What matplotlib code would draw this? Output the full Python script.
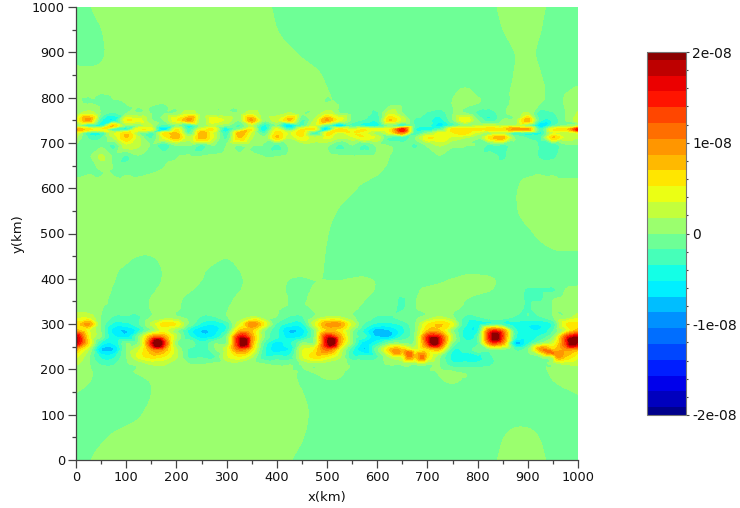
import numpy as np
import matplotlib
matplotlib.use("Agg")
import matplotlib.pyplot as plt
from matplotlib.colors import ListedColormap
from matplotlib.tri import Triangulation, UniformTriRefiner, CubicTriInterpolator
from matplotlib.ticker import MultipleLocator

# Column positions (km)
x_km = [0,25,50,75,100,125,150,175,200,225,250,275,300,325,350,375,400,425,450,475,500,
        525,550,575,600,625,650,675,700,725,750,775,800,825,850,875,900,925,950,975,1000]
# Row positions (km)
y_km = [0,50,100,150,175,195,212,228,244,258,272,286,300,315,335,355,375,395,430,500,550,
        600,640,670,695,712,722,730,738,750,765,785,810,850,900,950,1000]

# Field values in units of 1e-9, one row per y_km
field_e9 = [
[-1,1,1,1,1,1,1,1,1,1,1,1,1,1,1,1,1,-1,-1,-1,-1,-1,-1,-1,-1,-1,-1,-1,-1,-1,-1,-1,-1,-1,1,1,1,1,-1,-1,-1],
[-1,-1,-1,1,1,1,1,1,1,1,1,1,1,1,1,1,1,1,1,-1,-1,-1,-1,-1,-1,-1,-1,-1,-1,-1,-1,-1,-1,-1,1,1,1,1,-1,-1,-1],
[-1,-1,-1,-1,-1,-1,1,1,1,1,1,1,1,1,1,1,1,1,1,1,-1,-1,-1,-1,-1,-1,-1,-1,-1,-1,-1,-1,-1,-1,-1,-1,-1,-1,-1,-1,-1],
[1,-1,-1,-1,-1,-1,-1,1,1,1,1,1,1,1,1,1,1,1,-1,-1,-1,-1,-1,-1,-1,-1,-1,-1,-1,-1,-1,-1,-1,-1,-1,-1,-1,-1,-1,-1,1],
[1,1,-1,-1,-1,-1,-1,1,1,1,1,1,1,1,1,1,1,1,-1,-1,1,1,-1,-1,-1,-1,-1,-1,-1,1,1,1,-1,-1,-1,-1,-1,-1,1,1,1],
[1,1,-1,-1,1,1,1,1,1,1,1,1,1,1,1,1,1,1,-1,-1,1,1,-1,-1,-1,-1,-1,-1,-1,1,1,1,-1,-1,-1,-1,-1,-1,1,1,1],
[2,1,-2,-2,-1,1,2,2,1,-1,-1,1,1,1,1,-1,-1,-1,1,1,1,1,-1,-1,1,1,1,1,1,-1,-3,-3,-3,-2,-1,-1,-1,-1,1,2,2],
[4,1,-4,-4,-1,4,6,5,2,-2,-2,-2,3,5,2,-3,-3,-3,3,6,5,2,-3,-3,-2,2,4,7,6,1,-4,-4,-4,-2,-1,-1,-1,-1,3,7,4],
[8,2,-7,-7,1,3,9,9,2,-2,-3,-1,3,11,6,-3,-6,-5,3,5,11,4,-3,-7,-1,7,7,3,6,7,-3,-3,-1,1,1,-2,1,9,7,9,8],
[18,6,-4,-5,-1,1,15,15,1,-1,-3,-1,1,17,9,-2,-6,-4,1,1,17,9,1,-6,-4,-1,-1,1,13,15,1,-3,-2,11,9,-7,-4,1,3,13,18],
[18,5,1,-5,-6,1,9,9,2,-3,-6,-5,-1,15,9,1,-3,-6,-5,1,15,9,1,-3,-7,-7,-3,1,14,14,2,-4,-2,16,13,-3,-5,-3,1,12,18],
[8,4,-1,-6,-7,-4,1,4,1,-4,-7,-6,-3,7,7,1,-3,-7,-6,-1,7,6,1,-4,-8,-7,-4,-1,7,7,1,-4,-4,12,10,-3,-5,-5,-2,3,8],
[6,9,-1,-4,-4,-2,2,6,5,-1,-4,-5,-3,3,10,5,-2,-4,-4,3,9,9,3,-2,-4,-4,-3,-1,5,7,4,-3,-5,-3,-3,-4,-5,-5,-3,5,6],
[3,3,-1,-2,-2,-2,-1,1,1,-1,-2,-2,-1,1,2,1,-1,-2,-2,-1,2,2,1,-1,-2,-2,-1,-1,1,2,1,-2,-2,-1,-1,-2,-2,-2,-1,1,3],
[1,1,1,-1,-1,-1,1,1,1,-1,-1,-1,1,1,1,1,1,-1,-1,1,1,1,-1,-1,-1,-1,-2,1,1,1,1,-1,-1,-1,-1,-1,-2,-1,1,1,1],
[1,1,1,-1,-1,-1,1,1,-1,-1,-1,-1,-1,1,1,1,1,1,-1,1,1,1,1,1,-1,-1,-2,-1,1,1,1,-1,-1,-1,-1,-1,-2,-2,1,1,1],
[1,1,1,-1,-1,-1,-1,1,1,1,-1,-1,-1,-1,1,1,1,-1,-1,1,1,1,1,1,-1,-1,-1,-1,1,1,1,1,1,1,-1,-1,-2,-2,-2,1,1],
[1,1,1,1,1,-1,-1,1,1,1,1,1,-1,-1,1,1,-1,-1,-1,-1,-1,-1,1,1,1,1,1,1,-1,-1,1,1,1,1,1,1,-1,-1,-1,-1,-1],
[-1,-1,-1,-1,-1,-1,-1,-1,-1,-1,-1,-1,-1,-1,1,1,1,1,1,1,1,-1,-1,-1,-1,-1,-1,-1,-1,-1,-1,-1,-1,-1,-1,-1,-1,-1,-1,-1,-1],
[1,1,1,1,1,1,1,1,1,1,1,1,1,1,1,1,1,1,1,1,-1,-1,-1,-1,-1,-1,-1,-1,-1,-1,-1,-1,-1,-1,-1,-1,-1,1,1,1,1],
[1,1,1,1,1,1,1,1,1,1,1,1,1,1,1,1,1,1,1,1,1,-1,-1,-1,-1,-1,-1,-1,-1,-1,-1,-1,-1,-1,-1,1,1,1,1,1,1],
[1,1,1,1,1,1,1,1,1,1,1,1,1,1,1,1,1,1,1,1,1,1,1,-1,-1,-1,-1,-1,-1,-1,-1,-1,-1,-1,-1,1,1,1,1,1,1],
[-1,-1,-1,-1,-1,-1,-1,-1,1,1,1,1,1,1,1,1,1,1,1,1,1,1,1,1,1,1,-1,-1,-1,-1,-1,-1,-1,-1,-1,-1,-1,-1,-1,-1,-1],
[-1,-1,2,-1,-2,-1,1,-1,-1,1,-1,-1,1,1,1,-1,-1,1,1,1,1,1,-1,1,1,-1,-1,1,1,-1,-1,1,1,-1,-2,-1,1,-2,-2,-1,-1],
[1,-1,-1,-2,3,2,-1,-3,1,-1,-2,1,-1,-1,-1,-1,-2,-1,1,1,-1,-2,-1,-2,1,1,-1,-2,1,2,1,-1,-1,-2,-2,-1,1,-2,-3,-1,-1],
[2,-2,-2,2,7,2,-2,4,8,2,8,3,-2,7,2,1,7,2,5,2,4,2,3,5,3,-2,-3,1,5,5,3,2,-1,6,8,1,-2,-2,7,3,2],
[4,-3,-3,3,6,1,-2,5,7,-2,8,3,-3,8,3,-2,6,3,6,-3,5,3,5,4,-1,4,10,-3,1,4,5,6,3,1,2,-3,-3,-4,3,2,4],
[9,6,5,-3,-4,5,4,-7,5,-3,4,5,-5,-1,5,-5,4,-3,5,5,-6,6,3,5,4,5,15,-3,-5,-2,6,6,6,6,6,9,9,-3,5,6,16],
[1,-3,-4,7,1,-1,2,-3,1,-4,-1,2,-1,-2,2,-4,-1,-7,-2,3,-2,-7,-2,-4,-4,-1,-3,-2,-3,-6,-2,1,2,3,2,2,1,-7,-2,1,2],
[3,9,-3,-5,5,4,1,-1,5,9,-1,5,3,-1,9,1,3,7,-2,2,9,4,-1,-2,-3,7,3,-2,-3,-4,-1,5,1,-3,-1,1,8,-3,-3,-1,3],
[1,3,-1,-2,-1,1,-1,-1,1,3,-1,1,1,-1,3,-1,1,2,-1,1,3,1,-1,-1,-2,3,-1,-1,-2,-3,-1,1,-2,-3,-1,1,2,-3,-2,-1,2],
[-1,-1,-1,-1,-1,1,-1,-1,-1,1,1,1,-1,-1,1,1,1,-1,-1,1,-1,-1,-1,-1,-1,-1,1,1,-1,-1,1,1,1,-1,-1,1,1,-1,-1,1,1],
[1,1,-1,1,1,1,1,1,1,1,1,1,1,1,1,1,1,1,1,1,-1,1,1,-1,-1,-1,-1,-1,-1,-1,1,1,1,-1,-1,1,1,1,-1,1,1],
[1,1,1,1,1,1,1,1,1,1,1,1,1,1,1,1,1,1,1,1,1,-1,-1,-1,-1,-1,-1,-1,-1,-1,-1,-1,-1,-1,-1,1,1,1,-1,-1,-1],
[-1,-1,-1,-1,1,1,1,1,1,1,1,1,1,1,1,1,1,1,-1,-1,-1,-1,-1,-1,-1,-1,-1,-1,-1,-1,-1,-1,-1,-1,-1,-1,-1,-1,-1,-1,-1],
[-1,-1,-1,1,1,1,1,1,1,1,1,1,1,1,1,1,-1,-1,-1,-1,-1,-1,-1,-1,-1,-1,-1,-1,-1,-1,-1,-1,-1,-1,1,1,1,1,-1,-1,-1],
[-1,1,1,1,1,1,1,1,1,1,1,1,1,1,1,1,-1,-1,-1,-1,-1,-1,-1,-1,-1,-1,-1,-1,-1,-1,-1,-1,-1,-1,1,1,1,1,-1,-1,-1],
]

# Vortex centres
vortex_x = [163,332,507,713,835,990]
vortex_y = [258,262,262,264,272,262]
vortex_e9 = [24,24,24,24,22,24]
# Samples along the streaks of the lower band
streak_x = [640,665,690, 925,945,960]
streak_y = [238,234,226, 246,238,231]
streak_e9 = [10,12,11, 9,11,10]

band_colors = [
"#00008b","#0000be","#0000eb","#001eff","#0046ff","#006eff","#0091ff","#00beff",
"#00f0ff","#14ffe6","#46ffb9","#6eff96","#9bff6e","#c3ff3c","#ebff14","#ffe600",
"#ffb900","#ff9600","#ff6e00","#ff4600","#ff1400","#eb0000","#be0000","#8b0000",
]
tick_values = [-2e-8,-1e-8,0,1e-8,2e-8]
tick_labels = ["-2e-08","-1e-08","0","1e-08","2e-08"]

fig = plt.figure(figsize=(7.40,5.08),dpi=100)
W,H = 740,508
ax = fig.add_axes([76/W,1-460/H,502/W,453/H])
cax = fig.add_axes([647/W,1-415/H,39/W,363/H])

step = 2e-8/11.5
levels = np.array([-2e-8]+[k*step for k in range(-11,12)]+[2e-8])
X,Y = np.meshgrid(np.array(x_km,float),np.array(y_km,float))
Zg = np.array(field_e9,float)

# Rounds off the staircase of the +/-1 background cells (display only)
weights = {-1:1,0:2,1:1}
for _ in range(2):
    c = np.pad(np.clip(Zg,-1,1),1,mode="edge")
    avg = sum(weights[i]*weights[j]*c[1+i:c.shape[0]-1+i,1+j:c.shape[1]-1+j]
              for i in (-1,0,1) for j in (-1,0,1))/16
    bg = np.abs(Zg) <= 1
    Zg = np.where(bg,avg,Zg)

px = np.concatenate([X.ravel(),vortex_x,streak_x],dtype=float)
py = np.concatenate([Y.ravel(),vortex_y,streak_y],dtype=float)
pz = np.concatenate([Zg.ravel(),vortex_e9,streak_e9],dtype=float)*1e-9
tri = Triangulation(px,py)
ref = UniformTriRefiner(tri)
interp = CubicTriInterpolator(tri,pz,kind="geom")
tri2,z2 = ref.refine_field(pz,triinterpolator=interp,subdiv=3)
z2 = np.clip(z2,-1.999e-8,1.999e-8)
cf = ax.tricontourf(tri2,z2,levels=levels,cmap=ListedColormap(band_colors),
                    vmin=-2e-8,vmax=2e-8)
ax.set_xlim(0,1000); ax.set_ylim(0,1000)
for s in ("top","right"):
    ax.spines[s].set_visible(False)
for s in ("left","bottom"):
    ax.spines[s].set_color("#444444"); ax.spines[s].set_linewidth(0.9)
ax.xaxis.set_major_locator(MultipleLocator(100)); ax.xaxis.set_minor_locator(MultipleLocator(50))
ax.yaxis.set_major_locator(MultipleLocator(100)); ax.yaxis.set_minor_locator(MultipleLocator(50))
ax.tick_params(which="major",length=6,width=0.9,color="#444444",labelsize=9.3,pad=2,labelcolor="#111111")
ax.tick_params(which="minor",length=3,width=0.9,color="#444444")
ax.set_xlabel("x(km)",fontsize=9.5,labelpad=5,color="#111111")
ax.set_ylabel("y(km)",fontsize=9.5,labelpad=5,color="#111111")

cb = fig.colorbar(cf,cax=cax,spacing="proportional")
cb.set_ticks(tick_values); cb.set_ticklabels(tick_labels)
cb.ax.yaxis.set_minor_locator(MultipleLocator(2e-9))
cb.ax.tick_params(which="major",length=2.5,width=0.8,color="#444444",labelsize=10,pad=2,labelcolor="#111111")
cb.ax.tick_params(which="minor",length=1.5,width=0.8,color="#444444")
cb.outline.set_edgecolor("#777777"); cb.outline.set_linewidth(0.8)

fig.savefig("out.png",dpi=100)
